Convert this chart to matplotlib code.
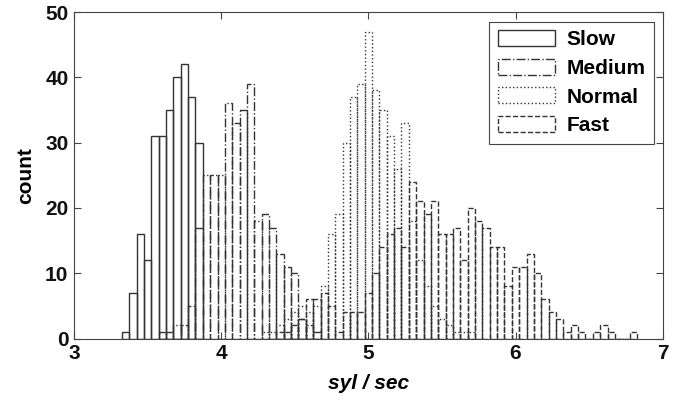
import numpy as np
import matplotlib
matplotlib.use("Agg")
import matplotlib.pyplot as plt

plt.rcParams['font.family'] = ['Liberation Sans', 'DejaVu Sans']

bin_width = 0.05

slow_start = 3.35
slow = [1, 7, 16, 12, 31, 31, 35, 40, 42, 37, 30]

medium_start = 3.60
medium = [1, 1, 2, 2, 5, 17, 25, 25, 25, 36, 33, 35, 39, 18, 19, 17, 13, 11,
          10, 3, 2, 1]

normal_start = 4.30
normal = [1, 1, 2, 3, 4, 5, 4, 5, 8, 16, 19, 30, 37, 39, 47, 38, 35, 31, 26,
          33, 18, 12, 8, 5, 3, 2, 1, 1, 1]

fast_start = 4.40
fast = [1, 1, 2, 3, 6, 6, 7, 5, 1, 4, 4, 4, 7, 10, 14, 16, 17, 14, 24, 21,
        19, 21, 16, 16, 17, 12, 20, 18, 17, 14, 14, 8, 11, 11, 13, 10, 6, 4,
        3, 1, 2, 1, 0, 1, 2, 1, 0, 0, 1]

series = [("Slow", slow_start, slow, "-"),
          ("Medium", medium_start, medium, "-."),
          ("Normal", normal_start, normal, ":"),
          ("Fast", fast_start, fast, "--")]

fig = plt.figure(figsize=(6.79, 4.03), dpi=100)
ax = fig.add_axes([0.109, 0.160, 0.867, 0.810])

edge = "#333333"
for name, start, counts, ls in series:
    centers = start + bin_width * np.arange(len(counts))
    ax.bar(centers, counts, width=bin_width, fill=False, edgecolor=edge,
           linewidth=1.0, linestyle=ls, label=name)

ax.set_xlim(3, 7)
ax.set_ylim(0, 50)
ax.set_xticks([3, 4, 5, 6, 7])
ax.set_yticks([0, 10, 20, 30, 40, 50])
ax.tick_params(direction="in", length=5, width=0.8, top=True, right=True,
               labelsize=15, pad=4, colors="#444444", labelcolor="#111111")
for lab in ax.get_xticklabels() + ax.get_yticklabels():
    lab.set_fontweight("bold")
for s in ax.spines.values():
    s.set_color("#444444")
    s.set_linewidth(0.8)

ax.set_xlabel("syl / sec", fontsize=15, fontweight="bold", style="italic",
              labelpad=8)
ax.set_ylabel("count", fontsize=15, fontweight="bold", labelpad=7)

leg = ax.legend(loc="upper right", bbox_to_anchor=(0.985, 0.97),
                fancybox=False, edgecolor="#444444", framealpha=1,
                handlelength=2.75, handleheight=0.8, handletextpad=0.55,
                labelspacing=0.45, borderpad=0.4, borderaxespad=0,
                prop={"size": 15, "weight": "bold"})
leg.get_frame().set_linewidth(0.8)

fig.savefig("out.png", dpi=100)
